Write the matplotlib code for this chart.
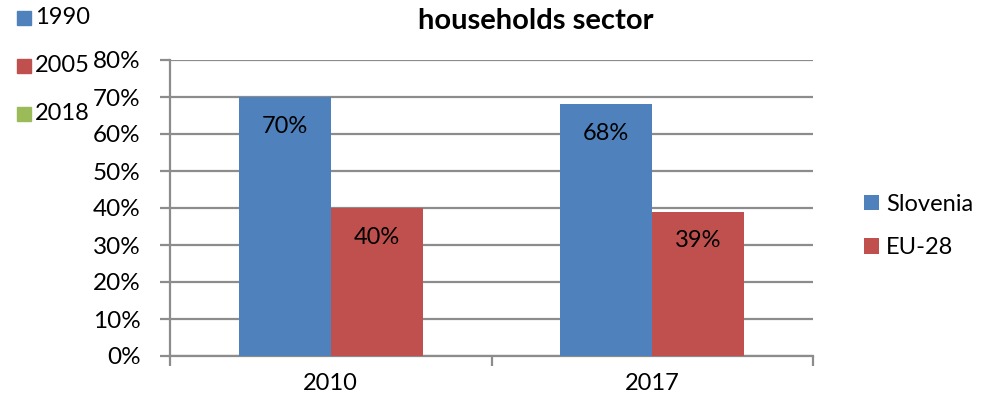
import matplotlib.pyplot as plt
from matplotlib.patches import Rectangle
import numpy as np

plt.rcParams['font.family'] = ['Lato', 'DejaVu Sans']

years = ['2010', '2017']
slovenia = [70, 68]
eu28 = [40, 39]
left_legend = ['1990', '2005', '2018']
left_colors = ['#4F81BD', '#C0504D', '#9BBB59']
blue, red = '#4F81BD', '#C0504D'
grid_col = '#8C8C8C'
fs = 17

fig = plt.figure(figsize=(9.82, 4.03), dpi=100)
ax = fig.add_axes([170 / 982, 1 - 356 / 403, 643 / 982, 296 / 403])

x = np.arange(len(years))
w = 0.286
b1 = ax.bar(x - w / 2, slovenia, w, color=blue, label='Slovenia', zorder=3)
b2 = ax.bar(x + w / 2, eu28, w, color=red, label='EU-28', zorder=3)

# value labels inside the bars, near the top
for bars, vals in ((b1, slovenia), (b2, eu28)):
    for r, v in zip(bars, vals):
        ax.annotate(f'{v}%', (r.get_x() + r.get_width() / 2, v),
                    xytext=(0, -21), textcoords='offset points',
                    ha='center', va='center', fontsize=fs, color='black', zorder=4)

ax.set_xlim(-0.5, 1.5)
ax.set_ylim(0, 80)
ax.set_yticks(range(0, 81, 10))
ax.set_yticklabels([f'{v}%' for v in range(0, 81, 10)], fontsize=fs + 0.5)
ax.yaxis.grid(True, color=grid_col, linewidth=1.6, zorder=0)

# category labels, tick marks between categories
ax.set_xticks([-0.5, 0.5, 1.5])
ax.set_xticklabels([])
ax.set_xticks(x, minor=True)
ax.set_xticklabels(years, minor=True, fontsize=fs)
ax.tick_params(axis='x', which='minor', length=0, pad=12)
ax.tick_params(axis='x', which='major', length=7, width=1.6, color=grid_col)
ax.tick_params(axis='y', length=7, width=1.6, color=grid_col, pad=14)

for s in ('top', 'right'):
    ax.spines[s].set_visible(False)
for s in ('left', 'bottom'):
    ax.spines[s].set_color(grid_col)
    ax.spines[s].set_linewidth(1.6)

fig.text(536 / 982, 1 - 29 / 403, 'households sector', ha='center', va='baseline',
         fontsize=21, fontweight='bold')

leg = ax.legend(loc='center left', bbox_to_anchor=(852 / 982, 1 - 226 / 403),
                bbox_transform=fig.transFigure, frameon=False, fontsize=fs,
                handlelength=0.65, handleheight=0.65, handletextpad=0.3,
                labelspacing=0.95, borderpad=0)

# second legend block in the top-left corner
ys = [18, 66, 114]
for lab, col, y in zip(left_legend, left_colors, ys):
    fig.patches.append(Rectangle((17 / 982, 1 - (y + 7) / 403), 14 / 982, 14 / 403,
                                 transform=fig.transFigure, color=col))
    fig.text(35 / 982, 1 - y / 403, lab, ha='left', va='center', fontsize=fs)

plt.savefig('out.png', dpi=100)
